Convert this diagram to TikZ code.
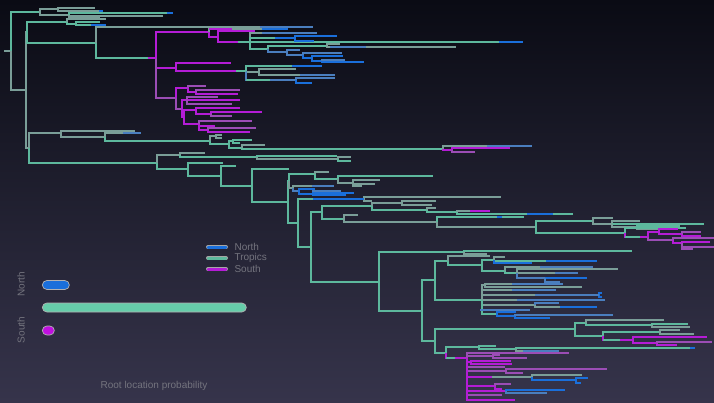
\documentclass[tikz,border=0pt]{standalone}
\usepackage{fontspec}
\setmainfont{Liberation Sans}
\usetikzlibrary{positioning}
\definecolor{bgtop}{HTML}{0A0B14}
\definecolor{bgmid}{HTML}{1A1A2C}
\definecolor{bgbot}{HTML}{36344B}
\definecolor{tro}{HTML}{5DB89D}
\definecolor{trg}{HTML}{7A9E98}
\definecolor{nor}{HTML}{1A6FDB}
\definecolor{nog}{HTML}{4A7EBE}
\definecolor{sou}{HTML}{B41CD6}
\definecolor{sog}{HTML}{9B4DB5}
\definecolor{edgegray}{HTML}{454A52}
\definecolor{labelgray}{HTML}{74747E}
\definecolor{tropbar}{HTML}{66CDAA}
\definecolor{soubar}{HTML}{C010E0}

% tree edges: parent x/y, child x/y, colour
\newcommand{\phyloedges}{4/51/11/51/trg,
  11/51/40/12/tro, 11/51/26/90/trg,
  40/12/58/9/trg, 40/12/69/15/trg,
  58/9/95/8/trg, 58/9/103/11/trg,
  69/15/173/13/tro, 69/15/163/16/trg, 69/15/100/18/trg,
  26/90/27/32/trg, 26/90/29/148/trg,
  27/32/67/22/tro, 27/32/96/43/tro,
  67/22/106/19/trg, 67/22/76/24/tro,
  76/24/100/22/tro, 76/24/106/25/tro,
  96/43/313/27/trg, 96/43/156/58/tro,
  156/58/209/32/sou, 156/58/176/68/sou, 156/58/176/98/sog,
  209/32/288/29/trg, 209/32/218/37/sou,
  218/37/255/31/sou, 218/37/250/42/sou,
  250/42/317/33/trg, 250/42/295/38/tro, 250/42/523/42/tro, 250/42/268/49/tro,
  295/38/337/36/nor, 295/38/314/41/nor,
  268/49/327/46/tro, 268/49/287/52/nog,
  327/46/340/44/trg, 327/46/456/47/trg,
  287/52/300/50/nog, 287/52/303/55/nog,
  303/55/342/53/nog, 303/55/312/58/nor,
  312/58/343/56/nor, 312/58/322/61/nor,
  322/61/345/60/nog, 322/61/364/62/nor,
  176/68/231/63/sou, 176/68/246/71/sou,
  246/71/322/66/tro, 246/71/259/72/trg, 246/71/296/80/nog,
  259/72/296/69/trg, 259/72/335/75/trg,
  296/80/335/78/nog, 296/80/312/83/nor,
  176/98/188/88/sou, 176/98/182/109/sog,
  188/88/206/86/sog, 188/88/196/92/sou,
  196/92/240/90/sog, 196/92/238/94/sou,
  182/109/187/100/sou, 182/109/184/117/sou,
  187/100/218/97/sog, 187/100/240/100/sou, 187/100/232/104/sog,
  184/117/196/110/sou, 184/117/199/124/sou,
  196/110/240/108/sou, 196/110/211/114/sou,
  211/114/262/112/sou, 211/114/232/116/sog,
  199/124/252/121/sog, 199/124/215/126/sou, 199/124/208/130/sou,
  208/130/256/128/sog, 208/130/250/132/sou,
  29/148/61/133/trg, 29/148/157/163/tro,
  61/133/135/131/trg, 61/133/105/137/trg,
  105/137/141/133/trg, 105/137/210/141/tro,
  210/141/216/136/trg, 210/141/229/144/tro,
  216/136/222/135/trg, 216/136/222/138/trg,
  229/144/233/141/tro, 229/144/242/148/tro,
  233/141/252/140/tro, 233/141/240/143/tro,
  242/148/265/145/trg, 242/148/443/149/tro,
  443/149/532/146/trg, 443/149/452/150/sou,
  452/150/510/148/sou, 452/150/475/152/sog,
  157/163/180/155/trg, 157/163/188/169/tro,
  180/155/205/153/trg, 180/155/257/157/tro,
  257/157/337/156/tro, 257/157/338/159/trg,
  338/159/351/157/trg, 338/159/351/161/tro,
  188/169/223/163/tro, 188/169/221/176/tro,
  221/176/236/166/tro, 221/176/252/186/tro,
  252/186/289/169/tro, 252/186/288/202/tro,
  288/202/289/181/tro, 288/202/298/223/tro,
  289/181/315/174/tro, 289/181/293/188/trg,
  315/174/329/172/trg, 315/174/338/179/tro,
  338/179/433/176/tro, 338/179/353/183/trg,
  353/183/380/180/trg, 353/183/375/184/trg, 353/183/362/186/trg,
  293/188/334/186/trg, 293/188/299/191/nog,
  299/191/315/189/nor, 299/191/313/194/nor,
  313/194/341/191/nog, 313/194/354/193/nor, 313/194/346/195/nor,
  298/223/364/199/tro, 298/223/311/247/tro,
  364/199/501/197/trg, 364/199/372/201/trg,
  311/247/322/212/tro, 311/247/379/282/tro,
  322/212/372/206/tro, 322/212/344/219/tro,
  372/206/402/203/trg, 372/206/427/210/tro,
  402/203/436/201/trg, 402/203/432/205/trg,
  427/210/436/208/trg, 427/210/457/212/tro,
  457/212/490/211/trg, 457/212/573/214/tro,
  344/219/358/215/trg, 344/219/437/222/trg,
  437/222/524/217/tro, 437/222/536/227/trg,
  536/227/593/221/tro, 536/227/625/233/tro,
  593/221/613/218/trg, 593/221/612/224/trg,
  612/224/640/221/trg, 612/224/704/224/tro, 612/224/637/227/trg,
  637/227/680/226/tro, 637/227/678/229/trg,
  625/233/686/228/tro, 625/233/648/237/sou,
  648/237/659/232/sou, 648/237/673/240/sog,
  659/232/678/229/sou, 659/232/682/234/sou,
  682/234/701/232/sog, 682/234/701/236/sou,
  673/240/714/238/sog, 673/240/682/243/sou,
  682/243/710/242/sou, 682/243/714/247/sog, 682/243/693/249/sog,
  379/282/464/252/tro, 379/282/422/311/tro,
  464/252/632/251/tro, 464/252/487/254/trg,
  422/311/435/280/tro, 422/311/435/341/tro,
  435/280/448/261/tro, 435/280/482/300/tro,
  448/261/490/256/trg, 448/261/482/265/tro,
  482/265/494/260/tro, 482/265/505/271/tro,
  494/260/505/257/trg, 494/260/597/261/tro, 494/260/532/263/nor,
  505/271/593/267/trg, 505/271/517/273/tro,
  517/273/618/269/trg, 517/273/578/273/trg, 517/273/545/278/nog,
  545/278/587/278/nor, 545/278/560/282/nog,
  482/300/485/285/trg, 482/300/556/290/trg, 482/300/599/295/trg,
  482/300/605/300/trg, 482/300/535/305/trg, 482/300/530/310/trg, 482/300/497/314/tro,
  485/285/563/284/trg, 485/285/582/287/trg,
  599/295/602/293/nor, 599/295/602/297/nor,
  535/305/559/303/nog, 535/305/597/307/trg,
  497/314/516/312/nor, 497/314/515/316/nor,
  515/316/613/315/nog, 515/316/550/318/nor,
  435/341/575/329/tro, 435/341/446/353/tro,
  575/329/586/323/tro, 575/329/603/336/tro,
  586/323/664/320/trg, 586/323/652/325/tro,
  652/325/688/324/tro, 652/325/690/327/trg,
  603/336/660/332/tro, 603/336/633/340/sou,
  660/332/680/330/trg, 660/332/694/334/trg,
  633/340/707/337/sou, 633/340/657/343/sou,
  657/343/712/342/sog, 657/343/677/345/sou,
  446/353/479/347/tro, 446/353/467/358/sou,
  479/347/496/346/tro, 479/347/516/349/tro,
  516/349/695/348/tro, 516/349/559/351/trg,
  467/358/569/353/sog, 467/358/493/356/sog, 467/358/471/362/sou,
  467/358/505/367/sog, 467/358/506/371/sog, 467/358/532/377/trg,
  467/358/495/386/sou, 467/358/506/391/sou, 467/358/502/395/sog, 467/358/515/400/sou,
  493/356/500/355/sog, 493/356/527/358/sog,
  471/362/511/361/sou, 471/362/512/364/sou,
  506/371/607/369/sog, 506/371/523/373/sog,
  532/377/582/375/trg, 532/377/576/380/nor,
  576/380/588/378/nor, 576/380/581/383/nor,
  495/386/511/384/sog, 495/386/502/389/sou,
  506/391/565/390/nor, 506/391/547/393/nog}

% colour changes along branches: from x, to x, y, colour
\newcommand{\phylotips}{99/103/11/nor, 167/173/13/nor, 91/106/25/nor,
  260/313/27/nog, 148/156/58/sou, 209/232/29/sou, 262/288/29/nor,
  238/250/42/tro, 262/317/33/nog, 275/295/38/nor, 499/523/42/nor,
  330/366/47/nog, 236/246/71/tro, 246/270/80/tro, 292/322/66/nor,
  300/335/75/nog, 123/141/133/nog, 487/532/146/nog, 312/334/186/nog,
  313/364/199/nor, 470/490/211/sou, 527/553/214/nor, 497/502/217/nor,
  625/640/237/tro, 546/597/261/nor, 540/593/267/nog, 555/578/273/nog,
  512/556/290/nog, 535/599/295/nog, 517/605/300/nog, 560/597/307/nor,
  480/530/310/nog, 512/563/284/nog, 603/620/340/tro, 446/455/358/tro,
  690/695/348/nor, 523/559/351/nog, 467/492/377/sou}

\begin{document}
\begin{tikzpicture}[x=1pt, y=-1pt,
    every node/.style={font=\fontsize{10}{12}\selectfont, text=labelgray},
    branch/.style={line width=1.3pt},
    branchedge/.style={line width=2.6pt, draw=edgegray},
    legline/.style={line width=3pt, line cap=round, preaction={draw=gray!70, line width=4pt, line cap=round}},
    bar/.style={rectangle, rounded corners=4.5pt, inner sep=0pt, draw=gray!60, line width=0.7pt, anchor=west, minimum height=9pt},
  ]
  % Background
  \shade[top color=bgtop, middle color=bgmid, bottom color=bgbot] (0,0) rectangle (714,402);
  \useasboundingbox (0,0) rectangle (714,402);

  % Tree
  \foreach \px/\py/\cx/\cy/\c in \phyloedges
    \draw[branchedge] (\px,\py) |- (\cx,\cy);
  \foreach \px/\py/\cx/\cy/\c in \phyloedges
    \draw[branch, draw=\c] (\px,\py) |- (\cx,\cy);
  \foreach \xa/\xb/\y/\c in \phylotips
    \draw[branch, draw=\c] (\xa,\y) -- (\xb,\y);

  % Legend
  \foreach \c/\t/\y/\n in {nor/North/247/lnorth, tro/Tropics/258/ltropics, sou/South/269/lsouth}{
    \draw[legline, draw=\c] (208,\y) -- (226,\y);
    \node[anchor=west] (\n) at (231,\y) {\t};
  }

  % Root location bars
  \node[bar, fill=nor, minimum width=27pt] (bnorth) at (42,285) {};
  \node[bar, fill=tropbar, minimum width=204pt] (btropics) at (42,307.5) {};
  \node[bar, fill=soubar, minimum width=12pt] (bsouth) at (42,330.5) {};
  \node[rotate=90] (ynorth) at (21,284) {North};
  \node[rotate=90] (ysouth) at (21,330) {South};
  \node (xlabel) at (154,386) {Root location probability};
\end{tikzpicture}
\end{document}
